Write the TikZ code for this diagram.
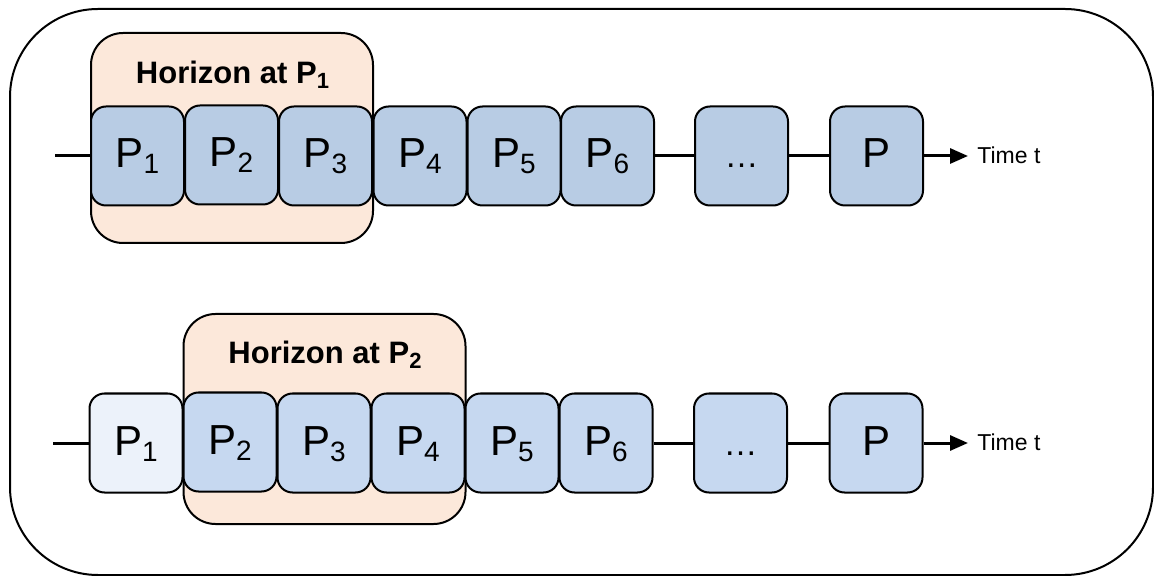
\documentclass[tikz,border=0pt]{standalone}
\usepackage{fontspec}
\setmainfont{Liberation Sans}
\usepackage{xcolor}
\usetikzlibrary{arrows.meta}

\definecolor{stepblue}{RGB}{184,204,228}
\definecolor{stepblueB}{RGB}{198,216,240}
\definecolor{stepfade}{RGB}{236,242,250}
\definecolor{horizonfill}{RGB}{252,232,218}

\newcommand{\Pnum}[1]{P\raisebox{-3pt}{\fontsize{14}{14}\selectfont #1}}
\newcommand{\Htitle}[1]{Horizon at P\raisebox{-2.5pt}{\fontsize{11}{11}\selectfont #1}}

\begin{document}
\begin{tikzpicture}[x=0.5pt, y=-0.5pt,
    period/.style={draw, line width=1pt, rounded corners=7.5pt, fill=stepblue,
        minimum width=46.5pt, minimum height=49.5pt, inner sep=0pt,
        text height=15pt, text depth=3pt, font=\fontsize{21}{21}\selectfont},
    horizon/.style={draw, line width=1pt, rounded corners=16pt, fill=horizonfill,
        minimum width=141pt, minimum height=105pt, inner sep=0pt},
    htitle/.style={font=\bfseries\fontsize{15.5}{15.5}\selectfont},
    conn/.style={line width=1.5pt},
    timelbl/.style={anchor=west, inner sep=0pt, font=\fontsize{11.5}{11.5}\selectfont}]
    \useasboundingbox (0,0) rectangle (1154,576);

    % Frame
    \draw[line width=1pt, rounded corners=44pt] (10,9) rectangle (1153,575);

    % Horizon at P1
    \node[horizon] (hor1) at (232,138) {};
    \node[htitle] (hor1title) at (232.5,75) {\Htitle{1}};

    \coordinate (start1) at (55,156);
    \node[period] (a1) at (137.5,156) {\Pnum{1}};
    \node[period] (a2) at (231.5,155) {\Pnum{2}};
    \node[period] (a3) at (325.5,156) {\Pnum{3}};
    \node[period] (a4) at (420,156) {\Pnum{4}};
    \node[period] (a5) at (514,156) {\Pnum{5}};
    \node[period] (a6) at (607.5,156) {\Pnum{6}};
    \node[period] (adots) at (741.5,156) {\fontsize{17}{17}\selectfont …};
    \node[period] (aP) at (876.5,156) {P};
    \coordinate (end1) at (968,156);
    \node[timelbl] (time1) at (977,155) {Time t};

    \draw[conn] (start1) -- (a1.west);
    \draw[conn] (a6.east) -- (adots.west);
    \draw[conn] (adots.east) -- (aP.west);
    \draw[conn, -{Triangle[length=9pt, width=7.5pt]}] (aP.east) -- (end1);

    % Horizon at P2
    \node[horizon] (hor2) at (324.5,419) {};
    \node[htitle] (hor2title) at (325,355) {\Htitle{2}};

    \coordinate (start2) at (53,443);
    \node[period, fill=stepfade] (b1) at (136,443) {\Pnum{1}};
    \node[period, fill=stepblueB] (b2) at (230,442) {\Pnum{2}};
    \node[period, fill=stepblueB] (b3) at (324,443) {\Pnum{3}};
    \node[period, fill=stepblueB] (b4) at (418,443) {\Pnum{4}};
    \node[period, fill=stepblueB] (b5) at (512,443) {\Pnum{5}};
    \node[period, fill=stepblueB] (b6) at (606,443) {\Pnum{6}};
    \node[period, fill=stepblueB] (bdots) at (740.5,443) {\fontsize{17}{17}\selectfont …};
    \node[period, fill=stepblueB] (bP) at (876,443) {P};
    \coordinate (end2) at (968,443);
    \node[timelbl] (time2) at (977,442) {Time t};

    \draw[conn] (start2) -- (b1.west);
    \draw[conn] (b6.east) -- (bdots.west);
    \draw[conn] (bdots.east) -- (bP.west);
    \draw[conn, -{Triangle[length=9pt, width=7.5pt]}] (bP.east) -- (end2);
\end{tikzpicture}
\end{document}
